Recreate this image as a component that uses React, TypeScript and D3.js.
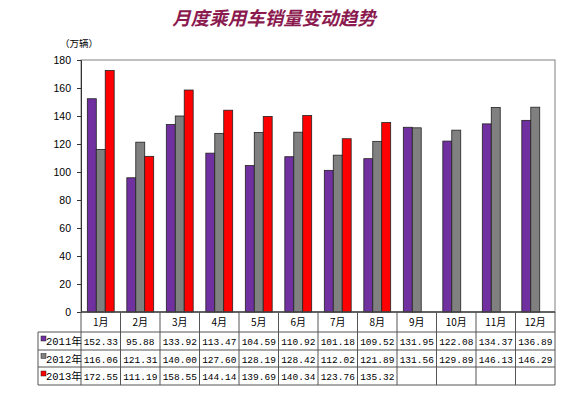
import React, { useRef, useEffect } from 'react';
import * as d3 from 'd3';

const months = ['1月', '2月', '3月', '4月', '5月', '6月', '7月', '8月', '9月', '10月', '11月', '12月'];
const seriesNames = ['2011年', '2012年', '2013年'];
const sales2011 = [152.33, 95.88, 133.92, 113.47, 104.59, 110.92, 101.18, 109.52, 131.95, 122.08, 134.37, 136.89];
const sales2012 = [116.06, 121.31, 140.0, 127.6, 128.19, 128.42, 112.02, 121.89, 131.56, 129.89, 146.13, 146.29];
const sales2013 = [172.55, 111.19, 158.55, 144.14, 139.69, 140.34, 123.76, 135.32];
const yTicks = [0, 20, 40, 60, 80, 100, 120, 140, 160, 180];
const colors = ['#7030A0', '#808080', '#FF0000'];

const App: React.FC = () => {
  const svgRef = useRef<SVGSVGElement | null>(null);

  useEffect(() => {
    if (!svgRef.current) return;
    const svg = d3.select(svgRef.current);
    svg.selectAll('*').remove();

    const left = 81;
    const right = 555;
    const top = 60;
    const bottom = 312;
    const tableLeft = 38;
    const rowLines = [bottom, 332, 350, 367, 385];
    const allSeries = [sales2011, sales2012, sales2013];

    // Title
    svg
      .append('text')
      .attr('x', 274)
      .attr('y', 25)
      .attr('text-anchor', 'middle')
      .attr('font-family', '"Noto Sans CJK SC", sans-serif')
      .attr('font-size', 18.5)
      .attr('font-weight', 'bold')
      .attr('font-style', 'italic')
      .attr('fill', '#8B1A4F')
      .text('月度乘用车销量变动趋势');

    svg
      .append('text')
      .attr('x', 60)
      .attr('y', 47)
      .attr('font-family', '"Noto Sans CJK SC", sans-serif')
      .attr('font-size', 9.5)
      .attr('fill', '#000')
      .text('（万辆）');

    // Scales
    const y = d3.scaleLinear().domain([0, 180]).range([bottom, top]);
    const x0 = d3.scaleBand<string>().domain(months).range([left, right]);
    const bw = x0.bandwidth();
    const gap = bw * 0.32;
    const x1 = d3
      .scaleBand<string>()
      .domain(seriesNames)
      .range([gap / 2, bw - gap / 2]);

    // Plot border
    svg
      .append('rect')
      .attr('x', left)
      .attr('y', top)
      .attr('width', right - left)
      .attr('height', bottom - top)
      .attr('fill', 'none')
      .attr('stroke', '#808080')
      .attr('stroke-width', 1);

    // Y axis
    const yAxis = svg
      .append('g')
      .attr('transform', `translate(${left},0)`)
      .call(
        d3
          .axisLeft(y)
          .tickValues(yTicks)
          .tickSize(4)
          .tickPadding(6)
          .tickFormat(d3.format('d'))
      );
    yAxis.select('.domain').attr('stroke', '#333');
    yAxis.selectAll('.tick line').attr('stroke', '#333');
    yAxis
      .selectAll('.tick text')
      .attr('font-family', '"Liberation Sans", Arial, sans-serif')
      .attr('font-size', 10.5)
      .attr('fill', '#000');

    // Bars
    allSeries.forEach((values, si) => {
      svg
        .append('g')
        .selectAll('rect')
        .data(values)
        .enter()
        .append('rect')
        .attr('x', (_, i) => (x0(months[i]) as number) + (x1(seriesNames[si]) as number))
        .attr('y', d => y(d))
        .attr('width', x1.bandwidth())
        .attr('height', d => bottom - y(d))
        .attr('fill', colors[si])
        .attr('stroke', '#222')
        .attr('stroke-width', 0.8);
    });

    // X axis line
    svg
      .append('line')
      .attr('x1', left)
      .attr('x2', right)
      .attr('y1', bottom)
      .attr('y2', bottom)
      .attr('stroke', '#222')
      .attr('stroke-width', 1.2);

    // Data table
    const grid = svg.append('g').attr('stroke', '#555').attr('stroke-width', 1).attr('fill', 'none');
    rowLines.forEach((ly, i) => {
      grid
        .append('line')
        .attr('x1', i < 2 ? (i === 0 ? left : tableLeft) : tableLeft)
        .attr('x2', right)
        .attr('y1', ly)
        .attr('y2', ly);
    });
    grid
      .append('line')
      .attr('x1', tableLeft)
      .attr('x2', tableLeft)
      .attr('y1', rowLines[1])
      .attr('y2', rowLines[4]);
    months.forEach(m => {
      const lx = x0(m) as number;
      grid.append('line').attr('x1', lx).attr('x2', lx).attr('y1', bottom).attr('y2', rowLines[4]);
    });
    grid.append('line').attr('x1', right).attr('x2', right).attr('y1', bottom).attr('y2', rowLines[4]);

    const tableFont = '"Liberation Mono", "Noto Sans CJK SC", monospace';
    svg
      .append('g')
      .selectAll('text')
      .data(months)
      .enter()
      .append('text')
      .attr('x', d => (x0(d) as number) + bw / 2)
      .attr('y', (rowLines[0] + rowLines[1]) / 2 + 4)
      .attr('text-anchor', 'middle')
      .attr('font-family', '"Noto Sans CJK SC", sans-serif')
      .attr('font-size', 10)
      .attr('fill', '#000')
      .text(d => d);

    allSeries.forEach((values, si) => {
      const ty = (rowLines[si + 1] + rowLines[si + 2]) / 2 + 4;
      const row = svg.append('g');
      row
        .append('rect')
        .attr('x', tableLeft + 3)
        .attr('y', ty - 9)
        .attr('width', 5)
        .attr('height', 5)
        .attr('fill', colors[si])
        .attr('stroke', '#222')
        .attr('stroke-width', 0.5);
      row
        .append('text')
        .attr('x', tableLeft + 8)
        .attr('y', ty)
        .attr('font-family', tableFont)
        .attr('font-size', 10.5)
        .attr('fill', '#000')
        .text(seriesNames[si]);
      row
        .selectAll('text.v')
        .data(values)
        .enter()
        .append('text')
        .attr('class', 'v')
        .attr('x', (_, i) => (x0(months[i]) as number) + bw / 2)
        .attr('y', ty)
        .attr('text-anchor', 'middle')
        .attr('font-family', tableFont)
        .attr('font-size', 9.5)
        .attr('fill', '#000')
        .text(d => d.toFixed(2));
    });
  }, []);

  return (
    <svg
      ref={svgRef}
      width={570}
      height={403}
      style={{ position: 'absolute', left: 0, top: 0, background: '#fff' }}
    ></svg>
  );
};

export default App;
